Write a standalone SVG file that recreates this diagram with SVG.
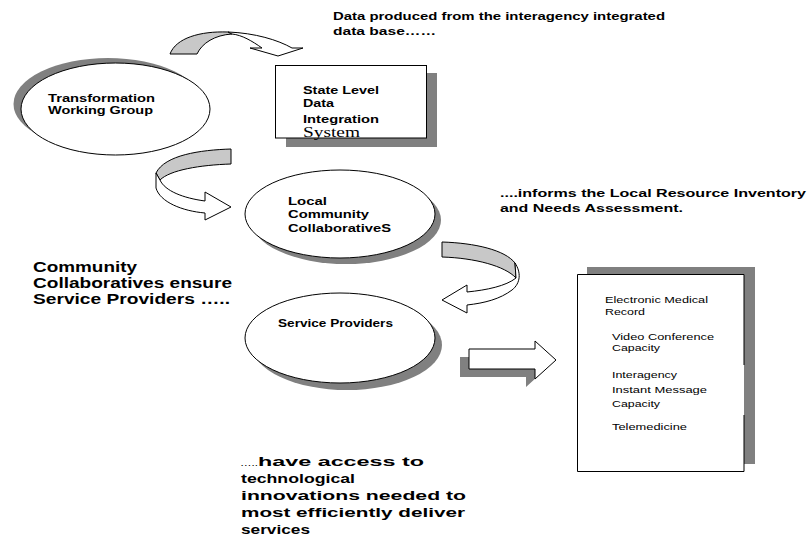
<svg xmlns="http://www.w3.org/2000/svg" width="809" height="537" viewBox="0 0 809 537">
<style>
.b{font-family:"Liberation Sans",Arial,sans-serif;font-weight:bold;fill:#000}
.n{font-family:"Liberation Sans",Arial,sans-serif;font-weight:normal;fill:#000}
.s{font-family:"Liberation Serif","Times New Roman",serif;fill:#000}
.sh{fill:#808080}
.wf{fill:#fff;stroke:#000;stroke-width:1}
.gf{fill:#c8c8c8;stroke:#000;stroke-width:1}
</style>
<rect width="809" height="537" fill="#fff"/>

<g id="connectors">
  <g id="arrow-top">
    <path class="gf" d="M170,54 C176,38 200,31 228,32 L232,34 C215,35 202,43 197,54 Z"/>
    <path class="wf" d="M228,32 C255,33 278,40 292,48 L303,48 L278,56 L250,48 L262,48 C252,41 242,35 232,34 Z"/>
  </g>
  <g id="arrow-left">
    <path class="gf" d="M231,149 C200,150 165,155 156,173 L160,180 C170,170 200,165 231,164 Z"/>
    <path class="wf" d="M156,173 L156,188 C160,202 182,211 205,213 L205,220 L231,207 L205,192 L205,201 C183,198 165,191 160,180 Z"/>
  </g>
  <g id="arrow-right-curve">
    <path class="gf" d="M442,242 C475,243 505,250 515,263 L516,278 C505,266 475,258 442,257 Z"/>
    <path class="wf" d="M515,263 C521,272 521,283 512,290 C500,299 485,303 467,305 L467,313 L442,300 L467,285 L467,292 C487,290 506,286 516,278 Z"/>
  </g>
  <g id="arrow-block">
    <path class="sh" d="M460,357 L526,357 L526,349 L547,368 L526,387 L526,377 L460,377 Z"/>
    <path class="wf" d="M469,349 L535,349 L535,341 L556,360 L535,379 L535,369 L469,369 Z"/>
  </g>
</g>

<g id="node-twg">
  <ellipse class="sh" cx="108" cy="104" rx="94.5" ry="46"/>
  <ellipse class="wf" cx="115.5" cy="109" rx="94.5" ry="46"/>
  <text class="b" font-size="10.5" x="48" y="102" textLength="107" lengthAdjust="spacingAndGlyphs">Transformation</text>
  <text class="b" font-size="10.5" x="48" y="114" textLength="105" lengthAdjust="spacingAndGlyphs">Working Group</text>
</g>

<g id="node-state">
  <rect class="sh" x="286" y="73" width="151" height="74"/>
  <rect class="wf" x="275.5" y="65.5" width="151" height="72.5"/>
  <text class="b" font-size="10" x="303" y="94" textLength="76" lengthAdjust="spacingAndGlyphs">State Level</text>
  <text class="b" font-size="10" x="303" y="107" textLength="31" lengthAdjust="spacingAndGlyphs">Data</text>
  <text class="b" font-size="10" x="303" y="123" textLength="76" lengthAdjust="spacingAndGlyphs">Integration</text>
  <text class="s" font-size="14" x="303" y="137" textLength="57" lengthAdjust="spacingAndGlyphs">System</text>
</g>

<g id="node-lcc">
  <ellipse class="sh" cx="346" cy="220" rx="95" ry="44"/>
  <ellipse class="wf" cx="340" cy="214" rx="95" ry="44"/>
  <text class="b" font-size="10.5" x="288" y="205" textLength="39" lengthAdjust="spacingAndGlyphs">Local</text>
  <text class="b" font-size="10.5" x="288" y="218" textLength="81" lengthAdjust="spacingAndGlyphs">Community</text>
  <text class="b" font-size="10.5" x="288" y="232" textLength="103" lengthAdjust="spacingAndGlyphs">CollaborativeS</text>
</g>

<g id="node-sp">
  <ellipse class="sh" cx="347" cy="345" rx="95" ry="45"/>
  <ellipse class="wf" cx="340" cy="338" rx="95" ry="45"/>
  <text class="b" font-size="10.5" x="278" y="327" textLength="115" lengthAdjust="spacingAndGlyphs">Service Providers</text>
</g>

<g id="node-tech">
  <rect class="sh" x="587" y="267" width="168" height="197"/>
  <rect x="577" y="274" width="167" height="197" fill="#fff"/>
  <path d="M744,365 L744,274.5 L577.5,274.5 L577.5,471.5 L744,471.5 L744,415" fill="none" stroke="#000" stroke-width="1"/>
  <text class="n" font-size="9.5" x="605" y="303" textLength="103" lengthAdjust="spacingAndGlyphs">Electronic Medical</text>
  <text class="n" font-size="9.5" x="605" y="315" textLength="40" lengthAdjust="spacingAndGlyphs">Record</text>
  <text class="n" font-size="9.5" x="612" y="340" textLength="102" lengthAdjust="spacingAndGlyphs">Video Conference</text>
  <text class="n" font-size="9.5" x="612" y="351" textLength="48" lengthAdjust="spacingAndGlyphs">Capacity</text>
  <text class="n" font-size="9.5" x="612" y="378" textLength="65" lengthAdjust="spacingAndGlyphs">Interagency</text>
  <text class="n" font-size="9.5" x="612" y="393" textLength="95" lengthAdjust="spacingAndGlyphs">Instant Message</text>
  <text class="n" font-size="9.5" x="612" y="407" textLength="48" lengthAdjust="spacingAndGlyphs">Capacity</text>
  <text class="n" font-size="9.5" x="612" y="430" textLength="75" lengthAdjust="spacingAndGlyphs">Telemedicine</text>
</g>

<g id="labels">
  <text class="b" font-size="10" x="333" y="20" textLength="332" lengthAdjust="spacingAndGlyphs">Data produced from the interagency integrated</text>
  <text class="b" font-size="10" x="333" y="35" textLength="103" lengthAdjust="spacingAndGlyphs">data base……</text>
  <text class="b" font-size="10.5" x="500" y="197" textLength="306" lengthAdjust="spacingAndGlyphs">....informs the Local Resource Inventory</text>
  <text class="b" font-size="10.5" x="500" y="212" textLength="183" lengthAdjust="spacingAndGlyphs">and Needs Assessment.</text>
  <text class="b" font-size="14" x="33" y="272" textLength="104" lengthAdjust="spacingAndGlyphs">Community</text>
  <text class="b" font-size="14" x="33" y="288" textLength="199" lengthAdjust="spacingAndGlyphs">Collaboratives ensure</text>
  <text class="b" font-size="14" x="33" y="304" textLength="197" lengthAdjust="spacingAndGlyphs">Service Providers …..</text>
  <text class="n" font-size="9" x="240" y="466" textLength="18" lengthAdjust="spacingAndGlyphs">…..</text>
  <text class="b" font-size="13.5" x="258" y="466" textLength="166" lengthAdjust="spacingAndGlyphs">have access to</text>
  <text class="b" font-size="13.5" x="241" y="483" textLength="114" lengthAdjust="spacingAndGlyphs">technological</text>
  <text class="b" font-size="13.5" x="241" y="500" textLength="225" lengthAdjust="spacingAndGlyphs">innovations needed to</text>
  <text class="b" font-size="13.5" x="241" y="517" textLength="224" lengthAdjust="spacingAndGlyphs">most efficiently deliver</text>
  <text class="b" font-size="13.5" x="241" y="534" textLength="69" lengthAdjust="spacingAndGlyphs">services</text>
</g>
</svg>
